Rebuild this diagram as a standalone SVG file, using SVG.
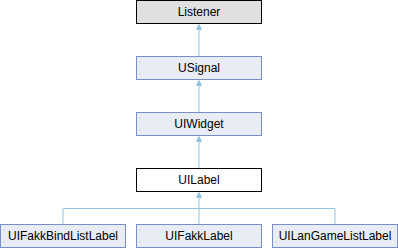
<svg xmlns="http://www.w3.org/2000/svg" width="398" height="248" viewBox="0 0 398 248">
<style>
.box{fill:#e8ecf5;stroke:#7b8fc6;stroke-width:1}
.grey{fill:#e0e0e0;stroke:#000;stroke-width:1}
.cur{fill:#fff;stroke:#000;stroke-width:1}
.lbl{font-family:"Liberation Sans",Arial,sans-serif;font-size:12px;fill:#000;text-anchor:middle}
.edge{stroke:#93c3e0;stroke-width:1;fill:none}
.ah{fill:#93c3e0;stroke:#93c3e0;stroke-width:1}
</style>
<rect width="398" height="248" fill="#fff"/>
<g id="connectors">
<line class="edge" x1="199" y1="29" x2="199" y2="56"/>
<polygon class="ah" points="199,24.5 196.5,29.5 201.5,29.5"/>
<line class="edge" x1="199" y1="85" x2="199" y2="112"/>
<polygon class="ah" points="199,80.5 196.5,85.5 201.5,85.5"/>
<line class="edge" x1="199" y1="141" x2="199" y2="168"/>
<polygon class="ah" points="199,136.5 196.5,141.5 201.5,141.5"/>
<polyline class="edge" points="63,224 63,208.5 335,208.5 335,224"/>
<line class="edge" x1="199" y1="197" x2="199" y2="224"/>
<polygon class="ah" points="199,192.5 196.5,197.5 201.5,197.5"/>
</g>
<g id="Listener">
<rect class="grey" x="136.5" y="0.5" width="125" height="23"/>
<text class="lbl" x="199" y="16">Listener</text>
</g>
<g id="USignal">
<rect class="box" x="136.5" y="56.5" width="125" height="23"/>
<text class="lbl" x="199" y="72">USignal</text>
</g>
<g id="UIWidget">
<rect class="box" x="136.5" y="112.5" width="125" height="23"/>
<text class="lbl" x="199" y="128">UIWidget</text>
</g>
<g id="UILabel">
<rect class="cur" x="136.5" y="168.5" width="125" height="23"/>
<text class="lbl" x="199" y="184">UILabel</text>
</g>
<g id="UIFakkBindListLabel">
<rect class="box" x="0.5" y="224.5" width="125" height="23"/>
<text class="lbl" x="63" y="240">UIFakkBindListLabel</text>
</g>
<g id="UIFakkLabel">
<rect class="box" x="136.5" y="224.5" width="125" height="23"/>
<text class="lbl" x="199" y="240">UIFakkLabel</text>
</g>
<g id="UILanGameListLabel">
<rect class="box" x="272.5" y="224.5" width="125" height="23"/>
<text class="lbl" x="335" y="240">UILanGameListLabel</text>
</g>
</svg>
